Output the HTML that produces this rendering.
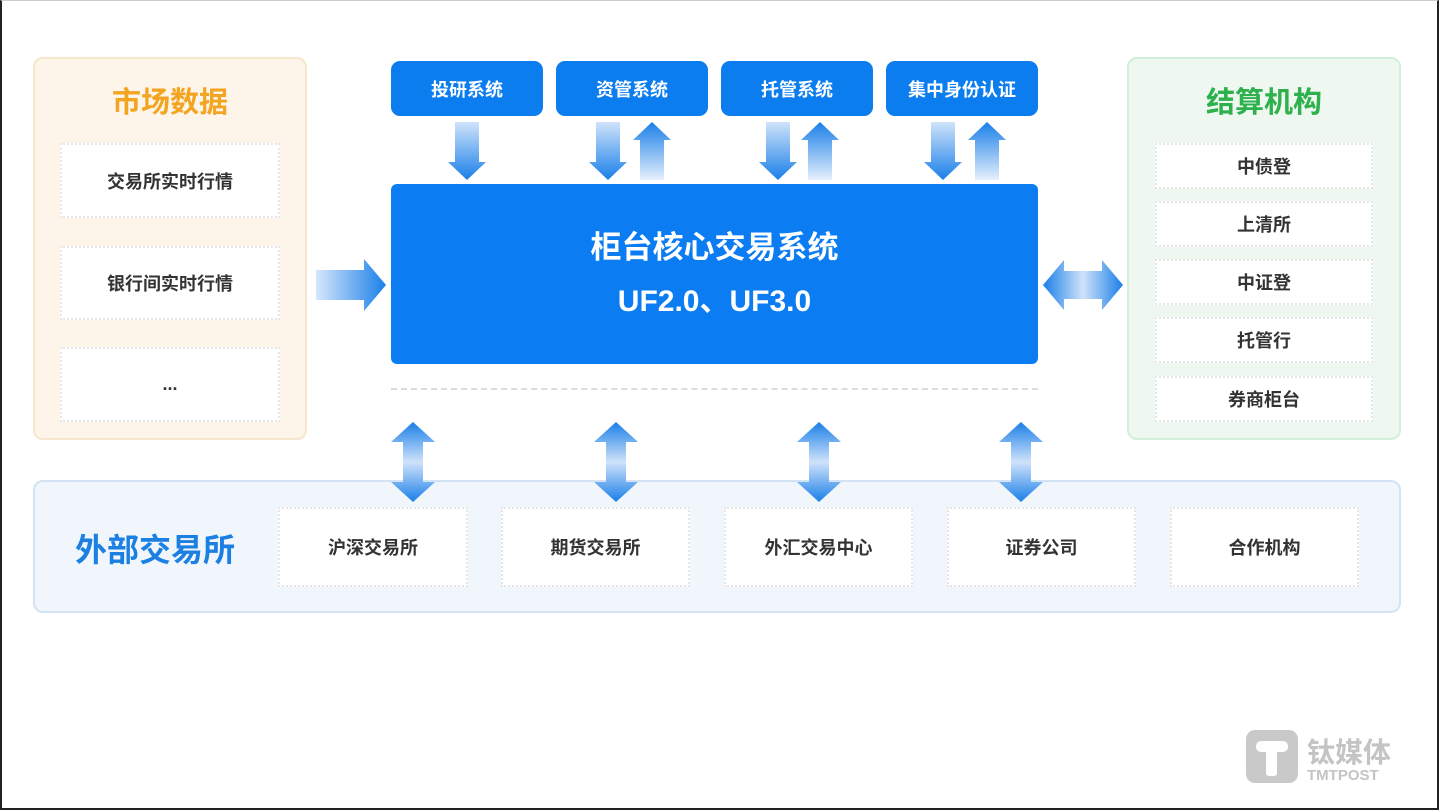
<!DOCTYPE html>
<html><head><meta charset="utf-8"><style>
*{margin:0;padding:0;box-sizing:border-box}
body{width:1439px;height:810px;background:#fff;position:relative;overflow:hidden;font-family:"Liberation Sans","Noto Sans CJK SC",sans-serif}
.frame{position:absolute;left:0;top:0;width:1439px;height:810px;border:2px solid #222;border-top:1px solid #ccc;pointer-events:none}
.abs{position:absolute}
.panel{position:absolute;border-radius:10px}
.item{position:absolute;background:#fff;border:2px dotted #e6e6e6;display:flex;align-items:center;justify-content:center;font-size:18px;font-weight:bold;color:#333}
.btn{position:absolute;top:61px;height:55px;width:152px;background:#0b7def;border-radius:9px;color:#fff;font-size:18px;font-weight:bold;display:flex;align-items:center;justify-content:center}
.title{position:absolute;font-weight:bold;font-size:29px;text-align:center}
</style></head><body>
<div class="panel" style="left:33px;top:57px;width:274px;height:383px;background:#fdf5ea;border:2px solid #f7e6cc"></div>
<div class="title" style="left:33px;top:79px;width:274px;color:#f3a421">市场数据</div>
<div class="item" style="left:60px;top:143px;width:220px;height:75px">交易所实时行情</div>
<div class="item" style="left:60px;top:246px;width:220px;height:74px">银行间实时行情</div>
<div class="item" style="left:60px;top:347px;width:220px;height:75px">...</div>

<div class="panel" style="left:1127px;top:57px;width:274px;height:383px;background:#eef8f1;border:2px solid #d3efdc"></div>
<div class="title" style="left:1127px;top:79px;width:274px;color:#2eb04c">结算机构</div>
<div class="item" style="left:1155px;top:143px;width:218px;height:46px">中债登</div>
<div class="item" style="left:1155px;top:201px;width:218px;height:46px">上清所</div>
<div class="item" style="left:1155px;top:259px;width:218px;height:46px">中证登</div>
<div class="item" style="left:1155px;top:317px;width:218px;height:46px">托管行</div>
<div class="item" style="left:1155px;top:376px;width:218px;height:46px">券商柜台</div>

<div class="btn" style="left:391px">投研系统</div>
<div class="btn" style="left:556px">资管系统</div>
<div class="btn" style="left:721px">托管系统</div>
<div class="btn" style="left:886px">集中身份认证</div>

<div class="abs" style="left:391px;top:184px;width:647px;height:180px;background:#0b7cf1;border-radius:6px;color:#fff;font-weight:bold;text-align:center">
<div style="font-size:31px;margin-top:38px">柜台核心交易系统</div>
<div style="font-size:30px;margin-top:9px">UF2.0、UF3.0</div>
</div>
<div class="abs" style="left:391px;top:388px;width:647px;border-top:2px dashed #d8dde3"></div>

<div class="panel" style="left:33px;top:480px;width:1368px;height:133px;background:#f1f6fd;border:2px solid #d3e3f4"></div>
<div class="title" style="left:60px;top:525px;width:190px;color:#1b80e2;font-size:32px">外部交易所</div>
<div class="item" style="left:278px;top:507px;width:190px;height:80px">沪深交易所</div>
<div class="item" style="left:501px;top:507px;width:189px;height:80px">期货交易所</div>
<div class="item" style="left:724px;top:507px;width:189px;height:80px">外汇交易中心</div>
<div class="item" style="left:947px;top:507px;width:189px;height:80px">证券公司</div>
<div class="item" style="left:1170px;top:507px;width:189px;height:80px">合作机构</div>

<svg class="abs" style="left:0;top:0" width="1439" height="810">
<defs>
<linearGradient id="gd" x1="0" y1="0" x2="0" y2="1"><stop offset="0" stop-color="#cfe3fb"/><stop offset="1" stop-color="#1a7fe8"/></linearGradient>
<linearGradient id="gu" x1="0" y1="1" x2="0" y2="0"><stop offset="0" stop-color="#e6f0fd"/><stop offset="1" stop-color="#1a7fe8"/></linearGradient>
<linearGradient id="gr" x1="0" y1="0" x2="1" y2="0"><stop offset="0" stop-color="#d6e7fb"/><stop offset="1" stop-color="#1a7fe8"/></linearGradient>
<linearGradient id="gh" x1="0" y1="0" x2="1" y2="0"><stop offset="0" stop-color="#1a7fe8"/><stop offset="0.5" stop-color="#cfe2fa"/><stop offset="1" stop-color="#1a7fe8"/></linearGradient>
<linearGradient id="gv" x1="0" y1="0" x2="0" y2="1"><stop offset="0" stop-color="#1a7fe8"/><stop offset="0.5" stop-color="#cfe2fa"/><stop offset="1" stop-color="#1a7fe8"/></linearGradient>
<g id="down"><polygon points="-12,0 12,0 12,40 19,40 0,58 -19,40 -12,40" fill="url(#gd)"/></g>
<g id="up"><polygon points="-12,58 12,58 12,18 19,18 0,0 -19,18 -12,18" fill="url(#gu)"/></g>
<g id="vv"><polygon points="0,0 22,20 10,20 10,60 22,60 0,80 -22,60 -10,60 -10,20 -22,20" fill="url(#gv)"/></g>
</defs>
<use href="#down" x="467" y="122"/>
<use href="#down" x="608" y="122"/><use href="#up" x="652" y="122"/>
<use href="#down" x="778" y="122"/><use href="#up" x="820" y="122"/>
<use href="#down" x="943" y="122"/><use href="#up" x="987" y="122"/>
<polygon points="316,270 364,270 364,259 386,285 364,311 364,300 316,300" fill="url(#gr)"/>
<polygon points="1043,285 1064,260 1064,271 1102,271 1102,260 1123,285 1102,310 1102,299 1064,299 1064,310" fill="url(#gh)"/>
<use href="#vv" x="413" y="422"/>
<use href="#vv" x="616" y="422"/>
<use href="#vv" x="819" y="422"/>
<use href="#vv" x="1021" y="422"/>
<rect x="1246" y="730" width="52" height="53" rx="9" fill="#c9c9c9"/>
<rect x="1256" y="741" width="32" height="11" rx="5" fill="#fff"/>
<rect x="1266" y="741" width="11" height="35" rx="3" fill="#fff"/>
<text x="1307" y="762" font-size="28" font-weight="bold" fill="#c4c4c4" font-family="Liberation Sans,Noto Sans CJK SC,sans-serif">钛媒体</text>
<text x="1307" y="780" font-size="15" font-weight="bold" fill="#c4c4c4" font-family="Liberation Sans,sans-serif">TMTPOST</text>
</svg>
<div class="frame"></div>
</body></html>
